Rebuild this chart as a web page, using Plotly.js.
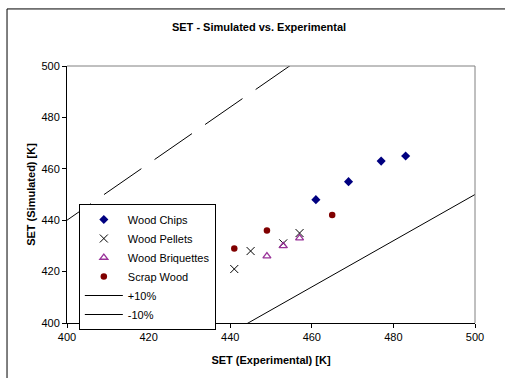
<!DOCTYPE html>
<html>
<head>
<meta charset="utf-8">
<script src="https://cdn.plot.ly/plotly-3.0.1.min.js"></script>
<style>html,body{margin:0;padding:0;background:#fff;}#chart{width:505px;height:378px;}</style>
</head>
<body>
<div id="chart"></div>
<script>
// Data
const chipsX = [461, 469, 477, 483];
const chipsY = [448, 455, 463, 465];
const pelletsX = [441, 445, 453, 457];
const pelletsY = [421, 428, 431, 435];
const briqX = [449, 453, 457];
const briqY = [426, 430, 433];
const scrapX = [441, 449, 465];
const scrapY = [429, 436, 442];
// reference lines (+10% / -10%)
const plusX = [400, 455];
const plusY = [440, 500.5];
const minusX = [443.5, 500];
const minusY = [399.2, 450];

const font = 'Arial, "Liberation Sans", sans-serif';

const traces = [
  {x: chipsX, y: chipsY, name: 'Wood Chips', type: 'scatter', mode: 'markers',
   marker: {symbol: 'diamond', size: 7, color: '#000080'}},
  {x: pelletsX, y: pelletsY, name: 'Wood Pellets', type: 'scatter', mode: 'markers',
   marker: {symbol: 'x-thin-open', size: 8, color: '#000000', line: {width: 1, color: '#000000'}}},
  {x: briqX, y: briqY, name: 'Wood Briquettes', type: 'scatter', mode: 'markers',
   marker: {symbol: 'triangle-up-open', size: 7, color: '#993399', line: {width: 1.3, color: '#993399'}}},
  {x: scrapX, y: scrapY, name: 'Scrap Wood', type: 'scatter', mode: 'markers',
   marker: {symbol: 'circle', size: 6.5, color: '#800000'}},
  {x: plusX, y: plusY, name: '+10%', type: 'scatter', mode: 'lines', showlegend: false,
   line: {color: '#000000', width: 1, dash: '29px,16px,45.5px,16px,45.5px,16px,45.5px,16px,45.5px,16px'}},
  {x: minusX, y: minusY, name: '-10%', type: 'scatter', mode: 'lines', showlegend: false, cliponaxis: false,
   line: {color: '#000000', width: 1}},
  {x: [null], y: [null], name: '+10%', type: 'scatter', mode: 'lines',
   line: {color: '#000000', width: 1}},
  {x: [null], y: [null], name: '-10%', type: 'scatter', mode: 'lines',
   line: {color: '#000000', width: 1}}
];

const layout = {
  width: 505, height: 378,
  margin: {l: 67, r: 30, t: 66, b: 55, pad: 0},
  paper_bgcolor: '#ffffff', plot_bgcolor: '#ffffff',
  font: {family: font, size: 11, color: '#000000'},
  title: {text: '<b>SET - Simulated vs. Experimental</b>', font: {family: font, size: 11, color: '#000000'},
          xref: 'container', x: 0.513, xanchor: 'center', yref: 'container', y: 0.929, yanchor: 'middle'},
  showlegend: true,
  legend: {x: 0.029, y: 0.463, xanchor: 'left', yanchor: 'top', bgcolor: '#ffffff',
           bordercolor: '#000000', borderwidth: 1, itemwidth: 38,
           font: {family: font, size: 11, color: '#000000'}, tracegroupgap: 0},
  xaxis: {range: [400, 500], dtick: 20, tick0: 400, showgrid: false, zeroline: false, automargin: true,
          showline: true, linecolor: '#000000', linewidth: 1, ticks: 'outside', ticklen: 4,
          tickcolor: '#000000', tickfont: {family: font, size: 11, color: '#000000'},
          title: {text: '<b>SET (Experimental) [K]</b>', font: {family: font, size: 11, color: '#000000'}, standoff: 14}},
  yaxis: {range: [400, 500], dtick: 20, tick0: 400, showgrid: false, zeroline: false, automargin: true,
          showline: true, linecolor: '#000000', linewidth: 1, ticks: 'outside', ticklen: 4,
          tickcolor: '#000000', tickfont: {family: font, size: 11, color: '#000000'},
          title: {text: '<b>SET (Simulated) [K]</b>', font: {family: font, size: 11, color: '#000000'}, standoff: 3}},
  shapes: [
    {type: 'line', xref: 'paper', yref: 'paper', x0: 0, x1: 1, y0: 1, y1: 1, line: {color: '#808080', width: 1}},
    {type: 'line', xref: 'paper', yref: 'paper', x0: 1, x1: 1, y0: 0, y1: 1, line: {color: '#808080', width: 1}},
    {type: 'rect', xref: 'paper', yref: 'paper', x0: -0.147, x1: 1.1, y0: -0.3, y1: 1.222,
     line: {color: '#000000', width: 1}, fillcolor: 'rgba(0,0,0,0)'}
  ]
};

Plotly.newPlot('chart', traces, layout, {displayModeBar: false, staticPlot: true});
</script>
</body>
</html>
